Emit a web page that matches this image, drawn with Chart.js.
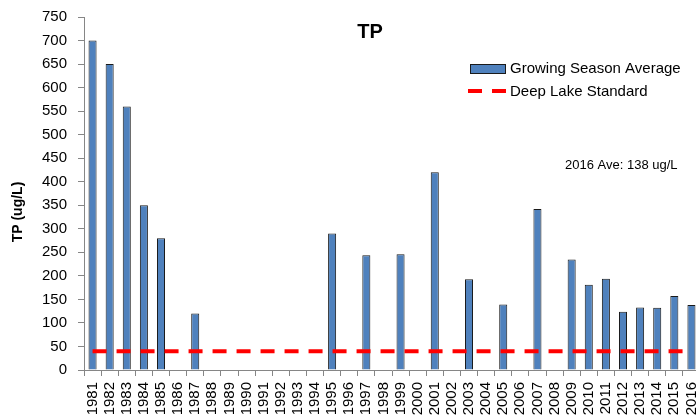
<!DOCTYPE html>
<html>
<head>
<meta charset="utf-8">
<script src="https://cdn.jsdelivr.net/npm/chart.js@4"></script>
<style>
  html, body { margin: 0; padding: 0; background: #fff; overflow: hidden; }
  #tpChart { display: block; }
</style>
</head>
<body>
<canvas id="tpChart" width="700" height="415"></canvas>
<script>
const years = ['1981','1982','1983','1984','1985','1986','1987','1988','1989','1990',
  '1991','1992','1993','1994','1995','1996','1997','1998','1999','2000',
  '2001','2002','2003','2004','2005','2006','2007','2008','2009','2010',
  '2011','2012','2013','2014','2015','2016'];
const growingSeason = [700, 650, 560, 350, 280, null, 120, null, null, null,
  null, null, null, null, 290, null, 244, null, 246, null,
  420, null, 193, null, 139, null, 342, null, 235, 181,
  194, 124, 133, 132, 157, 138];
const deepLakeStandard = years.map(() => 40);
const yTicks = [0, 50, 100, 150, 200, 250, 300, 350, 400, 450, 500, 550, 600, 650, 700, 750];

const FONT = "'Liberation Sans', Arial, sans-serif";
const AXIS = '#868686';

// title, axis title, legend and note sit inside the plot, so draw them by hand
const overlay = {
  id: 'overlay',
  afterDraw(chart) {
    const c = chart.ctx;
    c.save();
    c.fillStyle = '#000';
    c.textBaseline = 'middle';

    c.font = 'bold 20px ' + FONT;
    c.textAlign = 'center';
    c.fillText('TP', 370, 32);

    c.save();
    c.translate(18, 212);
    c.rotate(-Math.PI / 2);
    c.font = 'bold 14px ' + FONT;
    c.fillText('TP (ug/L)', 0, 0);
    c.restore();

    // legend
    c.fillStyle = '#4F81BD';
    c.fillRect(470, 64, 35, 9);
    c.strokeStyle = '#1a1a1a';
    c.lineWidth = 1;
    c.strokeRect(470.5, 64.5, 35, 9);
    c.strokeStyle = '#FF0000';
    c.lineWidth = 4;
    c.setLineDash([14, 10]);
    c.beginPath();
    c.moveTo(468, 91);
    c.lineTo(506, 91);
    c.stroke();
    c.setLineDash([]);
    c.fillStyle = '#000';
    c.textAlign = 'left';
    c.font = '15px ' + FONT;
    c.fillText('Growing Season Average', 510, 69);
    c.fillText('Deep Lake Standard', 510, 92);

    c.font = '13px ' + FONT;
    c.fillText('2016 Ave: 138 ug/L', 565, 165);
    c.restore();
  }
};

new Chart(document.getElementById('tpChart'), {
  data: {
    labels: years,
    datasets: [
      {
        type: 'line',
        label: 'Deep Lake Standard',
        data: deepLakeStandard,
        borderColor: '#FF0000',
        borderWidth: 4,
        borderDash: [14, 10],
        borderCapStyle: 'butt',
        pointRadius: 0,
        fill: false,
        order: 0
      },
      {
        type: 'bar',
        label: 'Growing Season Average',
        data: growingSeason,
        backgroundColor: '#4F81BD',
        borderColor: '#1a1a1a',
        borderWidth: 1,
        barPercentage: 0.47,
        categoryPercentage: 1,
        order: 1
      }
    ]
  },
  options: {
    responsive: false,
    animation: false,
    layout: { padding: { top: 17, left: 0, right: 0, bottom: 0 } },
    plugins: {
      legend: { display: false },
      title: { display: false },
      tooltip: { enabled: false }
    },
    scales: {
      x: {
        offset: true,
        grid: { display: true, drawOnChartArea: false, drawTicks: true, tickLength: 6, color: AXIS, offset: true },
        border: { color: AXIS },
        ticks: { color: '#000', font: { family: FONT, size: 15 }, minRotation: 90, maxRotation: 90, padding: 6, autoSkip: false },
        afterFit(scale) {
          scale.height = 45;
          scale.paddingLeft = 0;
          scale.paddingRight = 0;
        }
      },
      y: {
        min: 0,
        max: 750,
        afterBuildTicks(scale) { scale.ticks = yTicks.map(v => ({ value: v })); },
        grid: { display: true, drawOnChartArea: false, drawTicks: true, tickLength: 6, color: AXIS },
        border: { color: AXIS },
        ticks: { color: '#000', font: { family: FONT, size: 15 }, padding: 11 },
        afterFit(scale) {
          scale.width = 84;
          scale.paddingTop = 0;
          scale.paddingBottom = 0;
        }
      }
    }
  },
  plugins: [overlay]
});
</script>
</body>
</html>
